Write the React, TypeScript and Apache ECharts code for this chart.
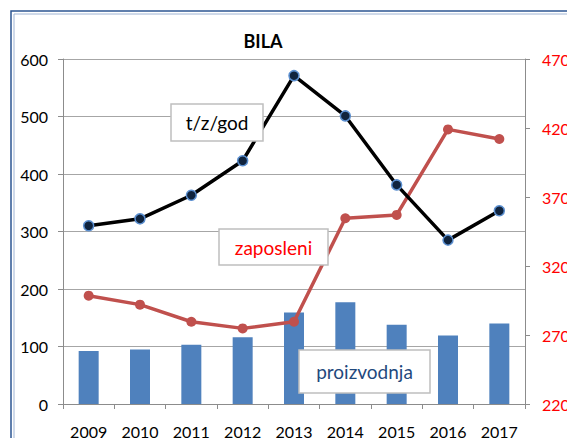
import React, { useEffect, useRef } from "react";
import * as echarts from "echarts";

const years = ["2009", "2010", "2011", "2012", "2013", "2014", "2015", "2016", "2017"];
const proizvodnja = [92, 95, 103, 116, 159, 177, 138, 119, 140];
const tzgod = [310, 322, 363, 423, 571, 501, 381, 285, 336];
const zaposleni = [2985, 2920, 2796, 2748, 2796, 3546, 3570, 4190, 4120];
const leftTicks = [0, 100, 200, 300, 400, 500, 600];
const rightTicks = [2200, 2700, 3200, 3700, 4200, 4700];

const FONT = "Lato";

function labelBox(x: number, y: number, w: number, h: number, text: string, color: string) {
  return {
    type: "group",
    z: 100,
    children: [
      {
        type: "rect",
        shape: { x, y, width: w, height: h },
        style: { fill: "#ffffff", stroke: "#bfbfbf", lineWidth: 1.5 },
        z: 100,
      },
      {
        type: "text",
        x: x + w / 2,
        y: y + h / 2,
        style: {
          text,
          fill: color,
          fontFamily: FONT,
          fontSize: 19,
          align: "center",
          verticalAlign: "middle",
        },
        z: 101,
      },
    ],
  };
}

export default function App() {
  const ref = useRef<HTMLDivElement>(null);
  useEffect(() => {
    if (!ref.current) return;
    const chart = echarts.init(ref.current, undefined, { renderer: "svg" });
    chart.setOption({
      animation: false,
      backgroundColor: "#ffffff",
      title: {
        text: "BILA",
        left: 258,
        top: 27,
        textAlign: "center",
        textStyle: { fontFamily: FONT, fontWeight: "bold", fontSize: 18, color: "#000" },
      },
      grid: {
        left: 63,
        right: 42,
        top: 59,
        bottom: 34,
        containLabel: false,
        outerBoundsMode: "none",
      },
      xAxis: {
        type: "category",
        data: years,
        boundaryGap: true,
        axisLine: { lineStyle: { color: "#8c8c8c", width: 1 } },
        axisTick: { show: true, length: 5, inside: false, lineStyle: { color: "#8c8c8c" } },
        axisLabel: { fontFamily: FONT, fontSize: 16, color: "#000", margin: 19 },
      },
      yAxis: [
        {
          type: "value",
          min: leftTicks[0],
          max: leftTicks[leftTicks.length - 1],
          interval: 100,
          axisLine: { show: true, lineStyle: { color: "#8c8c8c" } },
          axisTick: { show: true, length: 5, lineStyle: { color: "#8c8c8c" } },
          axisLabel: { fontFamily: FONT, fontSize: 16, color: "#000", margin: 15 },
          splitLine: { show: true, lineStyle: { color: "#a6a6a6", width: 1 } },
        },
        {
          type: "value",
          position: "right",
          min: rightTicks[0],
          max: rightTicks[rightTicks.length - 1],
          interval: 500,
          axisLine: { show: true, lineStyle: { color: "#8c8c8c" } },
          axisTick: { show: true, length: 5, lineStyle: { color: "#8c8c8c" } },
          axisLabel: {
            fontFamily: FONT,
            fontSize: 16,
            color: "#ff0000",
            margin: 17,
            formatter: (v: number) => String(v),
          },
          splitLine: { show: false },
        },
      ],
      series: [
        {
          name: "proizvodnja",
          type: "bar",
          data: proizvodnja,
          yAxisIndex: 0,
          barWidth: 20,
          itemStyle: { color: "#4f81bd" },
          z: 1,
        },
        {
          name: "zaposleni",
          type: "line",
          data: zaposleni,
          yAxisIndex: 1,
          symbol: "circle",
          symbolSize: 10,
          lineStyle: { color: "#c0504d", width: 3.5 },
          itemStyle: { color: "#c0504d" },
          z: 3,
        },
        {
          name: "t/z/god",
          type: "line",
          data: tzgod,
          yAxisIndex: 0,
          symbol: "circle",
          symbolSize: 10,
          lineStyle: { color: "#000000", width: 3.5 },
          itemStyle: { color: "#10243e", borderColor: "#5b8fd0", borderWidth: 1.5 },
          z: 4,
        },
      ],
      graphic: [
        {
          type: "rect",
          shape: { x: 11, y: 11, width: 600, height: 500 },
          style: { fill: "none", stroke: "#2c5592", lineWidth: 1.5 },
          z: 50,
        },
        {
          type: "rect",
          shape: { x: 14, y: 14, width: 600, height: 500 },
          style: { fill: "none", stroke: "#9fb4d4", lineWidth: 1 },
          z: 50,
        },
        labelBox(171, 104, 92, 37, "t/z/god", "#000000"),
        labelBox(219, 229, 109, 36, "zaposleni", "#ff0000"),
        labelBox(299, 350, 131, 43, "proizvodnja", "#1f497d"),
      ],
    });
    return () => chart.dispose();
  }, []);
  return (
    <div
      ref={ref}
      style={{ position: "fixed", left: 0, top: 0, width: 567, height: 438, background: "#fff" }}
    />
  );
}
